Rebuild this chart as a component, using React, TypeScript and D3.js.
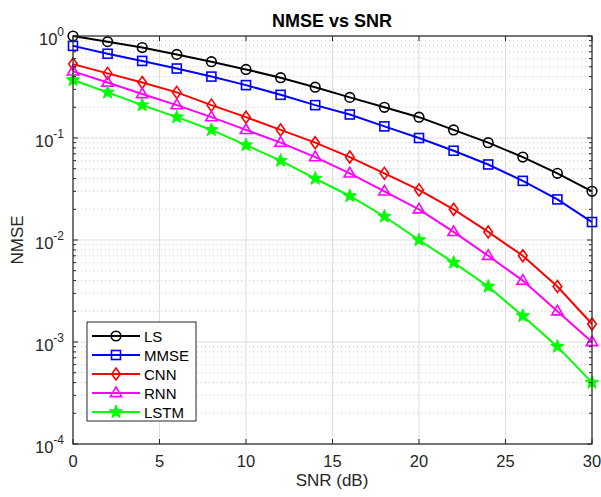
import React from 'react';
import * as d3 from 'd3';

const snr = [0, 2, 4, 6, 8, 10, 12, 14, 16, 18, 20, 22, 24, 26, 28, 30];
const ls = [1.0, 0.88, 0.77, 0.66, 0.56, 0.47, 0.39, 0.315, 0.25, 0.2, 0.16, 0.12, 0.09, 0.065, 0.045, 0.03];
const mmse = [0.8, 0.67, 0.57, 0.48, 0.4, 0.33, 0.265, 0.21, 0.17, 0.13, 0.1, 0.075, 0.055, 0.038, 0.025, 0.015];
const cnn = [0.53, 0.43, 0.35, 0.28, 0.21, 0.16, 0.12, 0.09, 0.065, 0.045, 0.031, 0.02, 0.012, 0.007, 0.0035, 0.0015];
const rnn = [0.45, 0.35, 0.27, 0.21, 0.16, 0.12, 0.09, 0.065, 0.045, 0.03, 0.02, 0.012, 0.007, 0.004, 0.002, 0.001];
const lstm = [0.37, 0.28, 0.21, 0.16, 0.12, 0.085, 0.06, 0.04, 0.027, 0.017, 0.01, 0.006, 0.0035, 0.0018, 0.0009, 0.0004];

const seriesNames = ['LS', 'MMSE', 'CNN', 'RNN', 'LSTM'];
const seriesValues = [ls, mmse, cnn, rnn, lstm];
const seriesColors = ['#000000', '#0000ff', '#ff0000', '#ff00ff', '#00ff00'];
const seriesMarkers = ['circle', 'square', 'diamond', 'triangle', 'star'];

const xTicks = [0, 5, 10, 15, 20, 25, 30];
const yExponents = [0, -1, -2, -3, -4];

const font = '"Liberation Sans", Arial, Helvetica, sans-serif';

function Marker({ kind, x, y, color }: { kind: string; x: number; y: number; color: string }) {
  const sw = 1.6;
  if (kind === 'circle') {
    return <circle cx={x} cy={y} r={4.8} fill="none" stroke={color} strokeWidth={sw} />;
  }
  if (kind === 'square') {
    return <rect x={x - 4.5} y={y - 4.5} width={9} height={9} fill="none" stroke={color} strokeWidth={sw} />;
  }
  if (kind === 'diamond') {
    const r = 6;
    return <path d={`M${x},${y - r}L${x + r * 0.72},${y}L${x},${y + r}L${x - r * 0.72},${y}Z`} fill="none" stroke={color} strokeWidth={sw} />;
  }
  if (kind === 'triangle') {
    const r = 6;
    return <path d={`M${x},${y - r}L${x + r * 0.95},${y + r * 0.6}L${x - r * 0.95},${y + r * 0.6}Z`} fill="none" stroke={color} strokeWidth={sw} />;
  }
  // pentagram
  const pts: string[] = [];
  for (let i = 0; i < 10; i++) {
    const a = -Math.PI / 2 + (i * Math.PI) / 5;
    const r = i % 2 === 0 ? 7 : 2.9;
    pts.push(`${x + r * Math.cos(a)},${y + r * Math.sin(a)}`);
  }
  return <path d={'M' + pts.join('L') + 'Z'} fill={color} stroke={color} strokeWidth={1} />;
}

export default function App() {
  const width = 601;
  const height = 497;
  const margin = { left: 73, right: 9, top: 36, bottom: 53 };
  const innerW = width - margin.left - margin.right;
  const innerH = height - margin.top - margin.bottom;

  const x = d3.scaleLinear().domain([0, 30]).range([0, innerW]);
  const y = d3.scaleLog().domain([1e-4, 1]).range([innerH, 0]);

  const minorY: number[] = [];
  for (let e = -4; e < 0; e++) {
    for (let m = 2; m <= 9; m++) minorY.push(m * Math.pow(10, e));
  }

  const line = d3
    .line<number>()
    .x((_, i) => x(snr[i]))
    .y((d) => y(d));

  const legendX = 87 - margin.left;
  const legendY = 322 - margin.top;
  const rowH = 19;

  return (
    <svg
      width={width}
      height={height}
      style={{ position: 'absolute', left: 0, top: 0, background: '#fff', fontFamily: font }}
    >
      <rect width={width} height={height} fill="#fff" />
      <text x={332} y={27} textAnchor="middle" fontSize={18} fontWeight="bold" fill="#000">
        NMSE vs SNR
      </text>
      <g transform={`translate(${margin.left},${margin.top})`}>
        {/* minor grid */}
        {minorY.map((v, i) => (
          <line key={'my' + i} x1={0} x2={innerW} y1={y(v)} y2={y(v)} stroke="#c8c8c8" strokeWidth={1} strokeDasharray="1,3" />
        ))}
        {/* major grid */}
        {yExponents.map((e) => (
          <line key={'gy' + e} x1={0} x2={innerW} y1={y(Math.pow(10, e))} y2={y(Math.pow(10, e))} stroke="#dedede" strokeWidth={1} />
        ))}
        {xTicks.map((t) => (
          <line key={'gx' + t} x1={x(t)} x2={x(t)} y1={0} y2={innerH} stroke="#dedede" strokeWidth={1} />
        ))}

        {/* series */}
        {seriesValues.map((vals, s) => (
          <g key={seriesNames[s]}>
            <path d={line(vals) || ''} fill="none" stroke={seriesColors[s]} strokeWidth={2} />
            {vals.map((v, i) => (
              <Marker key={i} kind={seriesMarkers[s]} x={x(snr[i])} y={y(v)} color={seriesColors[s]} />
            ))}
          </g>
        ))}

        {/* axes box and ticks */}
        <rect x={0} y={0} width={innerW} height={innerH} fill="none" stroke="#262626" strokeWidth={1.2} />
        {xTicks.map((t) => (
          <g key={'tx' + t}>
            <line x1={x(t)} x2={x(t)} y1={innerH} y2={innerH - 5} stroke="#262626" />
            <line x1={x(t)} x2={x(t)} y1={0} y2={5} stroke="#262626" />
            <text x={x(t)} y={innerH + 23} textAnchor="middle" fontSize={16.5} fill="#262626">
              {t}
            </text>
          </g>
        ))}
        {yExponents.map((e) => (
          <g key={'ty' + e}>
            <line x1={0} x2={5} y1={y(Math.pow(10, e))} y2={y(Math.pow(10, e))} stroke="#262626" />
            <line x1={innerW} x2={innerW - 5} y1={y(Math.pow(10, e))} y2={y(Math.pow(10, e))} stroke="#262626" />
            <text x={-9} y={y(Math.pow(10, e)) + 9} textAnchor="end" fontSize={16.5} fill="#262626">
              10
              <tspan dy={-9} fontSize={12}>
                {e}
              </tspan>
            </text>
          </g>
        ))}
        {minorY.map((v, i) => (
          <g key={'mt' + i}>
            <line x1={0} x2={3} y1={y(v)} y2={y(v)} stroke="#262626" />
            <line x1={innerW} x2={innerW - 3} y1={y(v)} y2={y(v)} stroke="#262626" />
          </g>
        ))}

        {/* legend */}
        <rect x={legendX} y={legendY} width={109} height={99} fill="#fff" stroke="#262626" strokeWidth={1} />
        {seriesNames.map((name, s) => {
          const cy = legendY + 14 + s * rowH;
          return (
            <g key={'lg' + name}>
              <line x1={legendX + 5} x2={legendX + 53} y1={cy} y2={cy} stroke={seriesColors[s]} strokeWidth={2} />
              <Marker kind={seriesMarkers[s]} x={legendX + 29} y={cy} color={seriesColors[s]} />
              <text x={legendX + 57} y={cy + 5.5} fontSize={15} fill="#000">
                {name}
              </text>
            </g>
          );
        })}
      </g>
      <text x={332} y={486} textAnchor="middle" fontSize={17} fill="#262626">
        SNR (dB)
      </text>
      <text transform={`translate(23,${margin.top + innerH / 2}) rotate(-90)`} textAnchor="middle" fontSize={17} fill="#262626">
        NMSE
      </text>
    </svg>
  );
}
